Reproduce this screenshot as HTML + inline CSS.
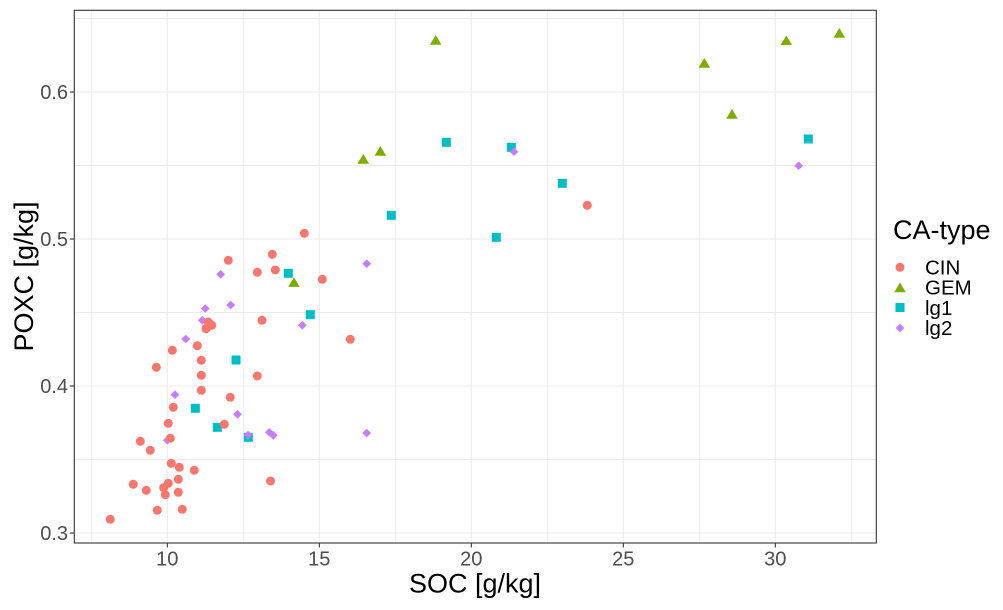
<!DOCTYPE html>
<html>
<head>
<meta charset="utf-8">
<style>
html,body{margin:0;padding:0;background:#fff;}
svg{display:block;}
text{font-family:"Liberation Sans",Arial,sans-serif;}
</style>
</head>
<body>
<svg width="1003" height="610" viewBox="0 0 1003 610" xmlns="http://www.w3.org/2000/svg">
<rect x="0" y="0" width="1003" height="610" fill="#fff"/>
<g stroke="#EBEBEB" stroke-width="0.9" fill="none">
<line x1="91.3" y1="10.3" x2="91.3" y2="543"/>
<line x1="243.3" y1="10.3" x2="243.3" y2="543"/>
<line x1="395.3" y1="10.3" x2="395.3" y2="543"/>
<line x1="547.3" y1="10.3" x2="547.3" y2="543"/>
<line x1="699.3" y1="10.3" x2="699.3" y2="543"/>
<line x1="851.3" y1="10.3" x2="851.3" y2="543"/>
<line x1="74.3" y1="459.5" x2="876.3" y2="459.5"/>
<line x1="74.3" y1="312.5" x2="876.3" y2="312.5"/>
<line x1="74.3" y1="165.5" x2="876.3" y2="165.5"/>
<line x1="74.3" y1="18.5" x2="876.3" y2="18.5"/>
</g>
<g stroke="#EBEBEB" stroke-width="1.1" fill="none">
<line x1="167.3" y1="10.3" x2="167.3" y2="543"/>
<line x1="319.3" y1="10.3" x2="319.3" y2="543"/>
<line x1="471.3" y1="10.3" x2="471.3" y2="543"/>
<line x1="623.3" y1="10.3" x2="623.3" y2="543"/>
<line x1="775.3" y1="10.3" x2="775.3" y2="543"/>
<line x1="74.3" y1="533" x2="876.3" y2="533"/>
<line x1="74.3" y1="386" x2="876.3" y2="386"/>
<line x1="74.3" y1="239" x2="876.3" y2="239"/>
<line x1="74.3" y1="92" x2="876.3" y2="92"/>
</g>
<g fill="#00BFC4">
<rect x="190.8" y="403.8" width="9" height="9"/>
<rect x="212.8" y="422.8" width="9" height="9"/>
<rect x="231.5" y="355.5" width="9" height="9"/>
<rect x="243.8" y="432.8" width="9" height="9"/>
<rect x="283.8" y="268.8" width="9" height="9"/>
<rect x="305.8" y="310.2" width="9" height="9"/>
<rect x="386.8" y="210.8" width="9" height="9"/>
<rect x="441.8" y="137.8" width="9" height="9"/>
<rect x="491.8" y="232.8" width="9" height="9"/>
<rect x="506.8" y="142.8" width="9" height="9"/>
<rect x="557.8" y="178.8" width="9" height="9"/>
<rect x="803.8" y="134.5" width="9" height="9"/>
</g>
<g fill="#C77CFF">
<path d="M167.3 436 l4.4 4.3 l-4.4 4.3 l-4.4 -4.3z"/>
<path d="M175 390.4 l4.4 4.3 l-4.4 4.3 l-4.4 -4.3z"/>
<path d="M185.7 334.7 l4.4 4.3 l-4.4 4.3 l-4.4 -4.3z"/>
<path d="M202.3 316 l4.4 4.3 l-4.4 4.3 l-4.4 -4.3z"/>
<path d="M205.3 304.2 l4.4 4.3 l-4.4 4.3 l-4.4 -4.3z"/>
<path d="M220.7 270 l4.4 4.3 l-4.4 4.3 l-4.4 -4.3z"/>
<path d="M230.7 300.7 l4.4 4.3 l-4.4 4.3 l-4.4 -4.3z"/>
<path d="M237.5 410 l4.4 4.3 l-4.4 4.3 l-4.4 -4.3z"/>
<path d="M248 430.7 l4.4 4.3 l-4.4 4.3 l-4.4 -4.3z"/>
<path d="M269.3 428 l4.4 4.3 l-4.4 4.3 l-4.4 -4.3z"/>
<path d="M273.3 431 l4.4 4.3 l-4.4 4.3 l-4.4 -4.3z"/>
<path d="M302.3 321 l4.4 4.3 l-4.4 4.3 l-4.4 -4.3z"/>
<path d="M366.7 259.4 l4.4 4.3 l-4.4 4.3 l-4.4 -4.3z"/>
<path d="M366.7 428.7 l4.4 4.3 l-4.4 4.3 l-4.4 -4.3z"/>
<path d="M514 147.4 l4.4 4.3 l-4.4 4.3 l-4.4 -4.3z"/>
<path d="M798.7 161.4 l4.4 4.3 l-4.4 4.3 l-4.4 -4.3z"/>
</g>
<g fill="#F8766D">
<circle cx="110.3" cy="519.3" r="4.5"/>
<circle cx="133.3" cy="484.3" r="4.5"/>
<circle cx="140.3" cy="441.3" r="4.5"/>
<circle cx="146.3" cy="490.3" r="4.5"/>
<circle cx="150.3" cy="450.3" r="4.5"/>
<circle cx="156.3" cy="367.3" r="4.5"/>
<circle cx="157.3" cy="510.3" r="4.5"/>
<circle cx="163.7" cy="487.7" r="4.5"/>
<circle cx="165.3" cy="494.7" r="4.5"/>
<circle cx="168.3" cy="483.3" r="4.5"/>
<circle cx="168.3" cy="423.3" r="4.5"/>
<circle cx="170.3" cy="438.3" r="4.5"/>
<circle cx="171.3" cy="463.3" r="4.5"/>
<circle cx="172.3" cy="350.3" r="4.5"/>
<circle cx="173.3" cy="407.3" r="4.5"/>
<circle cx="178.3" cy="479.3" r="4.5"/>
<circle cx="178.3" cy="492.3" r="4.5"/>
<circle cx="179.3" cy="467.3" r="4.5"/>
<circle cx="182.3" cy="509.3" r="4.5"/>
<circle cx="194.3" cy="470.3" r="4.5"/>
<circle cx="197.3" cy="345.7" r="4.5"/>
<circle cx="201.3" cy="360.3" r="4.5"/>
<circle cx="201.3" cy="375.3" r="4.5"/>
<circle cx="201.3" cy="390.3" r="4.5"/>
<circle cx="206" cy="328.7" r="4.5"/>
<circle cx="208.3" cy="322" r="4.5"/>
<circle cx="211.7" cy="325.3" r="4.5"/>
<circle cx="224.3" cy="424.3" r="4.5"/>
<circle cx="228.3" cy="260.3" r="4.5"/>
<circle cx="230.3" cy="397.3" r="4.5"/>
<circle cx="257.3" cy="272.3" r="4.5"/>
<circle cx="257.3" cy="376" r="4.5"/>
<circle cx="262" cy="320.3" r="4.5"/>
<circle cx="270.5" cy="481" r="4.5"/>
<circle cx="272.3" cy="254.3" r="4.5"/>
<circle cx="275.3" cy="270" r="4.5"/>
<circle cx="304.3" cy="233.3" r="4.5"/>
<circle cx="322.3" cy="279.3" r="4.5"/>
<circle cx="350.3" cy="339.3" r="4.5"/>
<circle cx="587.3" cy="205.3" r="4.5"/>
</g>
<g fill="#7CAE00">
<path d="M294 277.3 L299.8 286.9 L288.2 286.9Z"/>
<path d="M363.3 154 L369.1 163.7 L357.5 163.7Z"/>
<path d="M380.3 146 L386.1 155.7 L374.5 155.7Z"/>
<path d="M435.7 35 L441.5 44.7 L429.9 44.7Z"/>
<path d="M704.3 58 L710.1 67.7 L698.5 67.7Z"/>
<path d="M732 109 L737.8 118.7 L726.2 118.7Z"/>
<path d="M786.3 35.5 L792.1 45 L780.5 45Z"/>
<path d="M839.3 28 L845.1 37.7 L833.5 37.7Z"/>
</g>
<rect x="74.3" y="10.3" width="802" height="532.7" fill="none" stroke="#333333" stroke-width="1.1"/>
<g stroke="#333333" stroke-width="1.1">
<line x1="167.3" y1="543" x2="167.3" y2="547.5"/>
<line x1="319.3" y1="543" x2="319.3" y2="547.5"/>
<line x1="471.3" y1="543" x2="471.3" y2="547.5"/>
<line x1="623.3" y1="543" x2="623.3" y2="547.5"/>
<line x1="775.3" y1="543" x2="775.3" y2="547.5"/>
<line x1="69.8" y1="533" x2="74.3" y2="533"/>
<line x1="69.8" y1="386" x2="74.3" y2="386"/>
<line x1="69.8" y1="239" x2="74.3" y2="239"/>
<line x1="69.8" y1="92" x2="74.3" y2="92"/>
</g>
<g fill="#4D4D4D" font-size="20">
<text x="167.3" y="565.7" text-anchor="middle">10</text>
<text x="319.3" y="565.7" text-anchor="middle">15</text>
<text x="471.3" y="565.7" text-anchor="middle">20</text>
<text x="623.3" y="565.7" text-anchor="middle">25</text>
<text x="775.3" y="565.7" text-anchor="middle">30</text>
<text x="68" y="540" text-anchor="end">0.3</text>
<text x="68" y="393" text-anchor="end">0.4</text>
<text x="68" y="246" text-anchor="end">0.5</text>
<text x="68" y="99" text-anchor="end">0.6</text>
</g>
<text x="475" y="592.7" text-anchor="middle" font-size="27" fill="#000">SOC [g/kg]</text>
<text transform="translate(33,276.5) rotate(-90)" x="0" y="0" text-anchor="middle" font-size="27" fill="#000">POXC [g/kg]</text>
<text x="893" y="239" font-size="27" fill="#000">CA-type</text>
<circle cx="900" cy="267.3" r="4.5" fill="#F8766D"/>
<path d="M900 282.5 L905.8 292.2 L894.2 292.2Z" fill="#7CAE00"/>
<rect x="895.5" y="303" width="9" height="9" fill="#00BFC4"/>
<path d="M900 323.7 l4.4 4.3 l-4.4 4.3 l-4.4 -4.3z" fill="#C77CFF"/>
<g font-size="20.5" fill="#000">
<text x="925" y="274.3">CIN</text>
<text x="925" y="294.6">GEM</text>
<text x="925" y="314.9">lg1</text>
<text x="925" y="335.2">lg2</text>
</g>
</svg>
</body>
</html>
